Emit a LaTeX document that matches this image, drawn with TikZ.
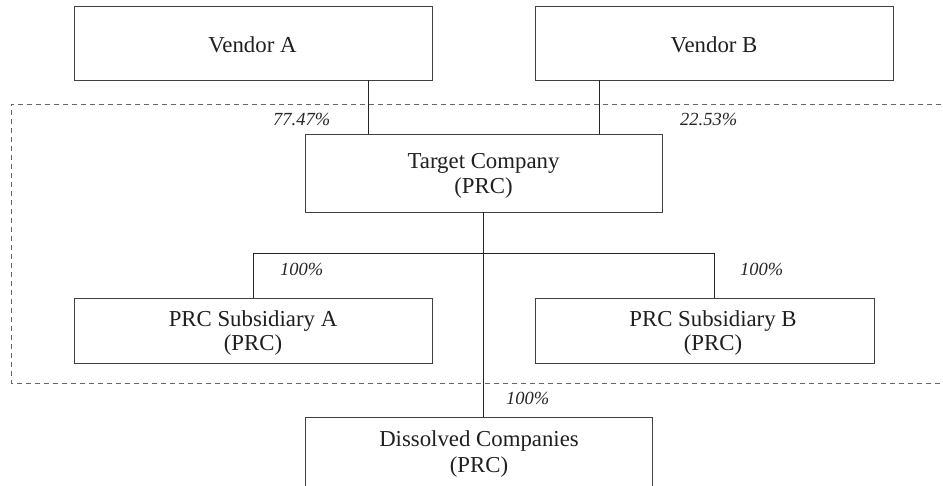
\documentclass[tikz,border=0pt]{standalone}
\usepackage{fontspec}
\setmainfont{Liberation Serif}
\begin{document}
\begin{tikzpicture}[x=1pt,y=-1pt,
  box/.style={draw=black!75, line width=0.85pt, rectangle, inner sep=0pt, outer sep=0pt},
  lbl/.style={font=\fontsize{22.8}{25}\selectfont, text=black!88, inner sep=0pt, anchor=base},
  pct/.style={font=\fontsize{18.5}{20}\selectfont\itshape, text=black!85, inner sep=0pt, anchor=base west},
  link/.style={draw=black!85, line width=0.8pt},
  group/.style={draw=black!60, line width=0.9pt, dash pattern=on 5pt off 4pt}]
\useasboundingbox (0,0) rectangle (943,485);

% dashed grouping frame (open to the right)
\draw[group] (950,104) -- (11,104) -- (11,383) -- (950,383);

% boxes
\node[box, minimum width=358, minimum height=74] (va) at (253,43) {};
\node[box, minimum width=358, minimum height=74] (vb) at (714,43) {};
\node[box, minimum width=357, minimum height=78] (tc) at (483.5,173) {};
\node[box, minimum width=358, minimum height=65] (sa) at (253,330.5) {};
\node[box, minimum width=339, minimum height=65] (sb) at (704.5,330.5) {};
\node[box, minimum width=347, minimum height=80] (dc) at (478.5,457) {};

% box texts
\node[lbl] (vaT) at (252.5,52) {Vendor A};
\node[lbl] (vbT) at (714,52) {Vendor B};
\node[lbl] (tcT1) at (483.5,168) {Target Company};
\node[lbl] (tcT2) at (483.5,193) {(PRC)};
\node[lbl] (saT1) at (253,326) {PRC Subsidiary A};
\node[lbl] (saT2) at (253,350) {(PRC)};
\node[lbl] (sbT1) at (713,326) {PRC Subsidiary B};
\node[lbl] (sbT2) at (713,350) {(PRC)};
\node[lbl] (dcT1) at (479,446) {Dissolved Companies};
\node[lbl] (dcT2) at (479,472) {(PRC)};

% connector positions
\coordinate (xa) at (368,0);
\coordinate (xb) at (599,0);
\coordinate (trunk) at (483,0);
\coordinate (barL) at (253,253);
\coordinate (barR) at (714,253);

% connectors
\draw[link] (va.south -| xa) -- (tc.north -| xa);
\draw[link] (vb.south -| xb) -- (tc.north -| xb);
\draw[link] (tc.south -| trunk) -- (dc.north -| trunk);
\draw[link] (sa.north -| barL) -- (barL) -- (barR) -- (sb.north -| barR);

% shareholdings
\node[pct] (pA) at (273,125) {77.47\%};
\node[pct] (pB) at (680,125) {22.53\%};
\node[pct] (pSA) at (280,275) {100\%};
\node[pct] (pSB) at (740,275) {100\%};
\node[pct] (pDC) at (506,404) {100\%};
\end{tikzpicture}
\end{document}
